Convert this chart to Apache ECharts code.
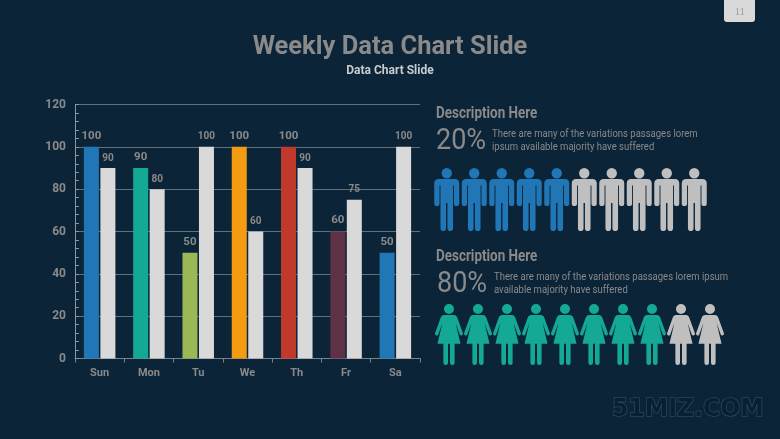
<!DOCTYPE html>
<html>
<head>
<meta charset="utf-8">
<style>
  html, body { margin: 0; padding: 0; background: #0c2438; }
  #main { width: 780px; height: 439px; }
</style>
</head>
<body>
<div id="main"></div>
<script src="https://cdn.jsdelivr.net/npm/echarts@6/dist/echarts.min.js"></script>
<script>
const categories = ['Sun', 'Mon', 'Tu', 'We', 'Th', 'Fr', 'Sa']
const colorValues = [100, 90, 50, 100, 100, 60, 50]
const greyValues = [90, 80, 100, 60, 90, 75, 100]
const barColors = ['#2176b5', '#14a994', '#9ab854', '#f39c12', '#c0392b', '#5f3147', '#2176b5']

const iconSlots = ['1', '2', '3', '4', '5', '6', '7', '8', '9', '10']
const maleFilled = [1, 1, 1, 1, 1, 0, 0, 0, 0, 0]
const femaleFilled = [1, 1, 1, 1, 1, 1, 1, 1, 0, 0]

const grey = '#8a8a8a'
const iconGrey = '#bfbfbf'

const malePath = 'path://M12.5 0A5.2 5.2 0 1 1 12.5 10.4A5.2 5.2 0 1 1 12.5 0ZM4.5 11H20.5Q25 11 25 15.5V35.4A2.65 2.65 0 0 1 19.7 35.4V17.5H18.8V60.2A2.8 2.8 0 0 1 13.2 60.2V35H11.8V60.2A2.8 2.8 0 0 1 6.2 60.2V17.5H5.3V35.4A2.65 2.65 0 0 1 0 35.4V15.5Q0 11 4.5 11Z'
const femalePath = 'path://M14 0A5 5 0 1 1 14 10A5 5 0 1 1 14 0ZM9 11H19Q21 11 22 13L27.9 29.5A1.7 1.7 0 0 1 24.8 30.8L20.6 19L25.5 40H19.6V59A2.3 2.3 0 0 1 15 59V40H13V59A2.3 2.3 0 0 1 8.4 59V40H2.5L7.4 19L3.2 30.8A1.7 1.7 0 0 1 0.1 29.5L6 13Q7 11 9 11Z'

function iconData(filled, color) {
    return filled.map(function (f, i) {
        return { value: [i, 0], itemStyle: { color: f ? color : iconGrey, opacity: 1 } }
    })
}

function hiddenAxes(gridIndex) {
    return {
        x: { type: 'category', gridIndex: gridIndex, data: iconSlots, show: false },
        y: { type: 'value', gridIndex: gridIndex, min: -1, max: 1, show: false }
    }
}

// squeeze is a horizontal scale, the slide used a condensed face we don't have
function txt(x, y, text, size, color, squeeze, extra) {
    return {
        type: 'text', x: x, y: y, scaleX: squeeze, silent: true,
        style: Object.assign({
            text: text, fontSize: size, fill: color, fontFamily: 'Roboto',
            textVerticalAlign: 'middle', lineHeight: 15
        }, extra || {})
    }
}

const maleAxes = hiddenAxes(1)
const femaleAxes = hiddenAxes(2)

const myChart = echarts.init(document.getElementById('main'))
myChart.setOption({
    backgroundColor: '#0c2438',
    animation: false,
    title: {
        text: 'Weekly Data Chart Slide',
        subtext: 'Data Chart Slide',
        left: 'center',
        top: 30,
        itemGap: 4,
        textStyle: { color: grey, fontFamily: 'Roboto', fontSize: 25.5, fontWeight: 'bold' },
        subtextStyle: { color: '#c8cccf', fontFamily: 'Roboto', fontSize: 12, fontWeight: 'bold' }
    },
    grid: [
        { left: 75, right: 360, top: 104.5, bottom: 80.5 },
        { left: 433, width: 275, top: 168, height: 63 },
        { left: 434.5, width: 290, top: 304, height: 61 }
    ],
    xAxis: [
        {
            type: 'category',
            data: categories,
            axisLine: { lineStyle: { color: '#76848e', width: 1 } },
            axisTick: { show: true, length: 4, lineStyle: { color: '#76848e' } },
            axisLabel: { color: grey, fontFamily: 'Roboto', fontSize: 11, fontWeight: 'bold', margin: 9 }
        },
        maleAxes.x,
        femaleAxes.x
    ],
    yAxis: [
        {
            type: 'value',
            min: 0,
            max: 120,
            interval: 20,
            axisLine: { show: true, lineStyle: { color: '#8a97a0', width: 1 } },
            axisTick: { show: true, inside: true, length: 4, lineStyle: { color: '#8a97a0' } },
            minorTick: { show: true, splitNumber: 5, length: 4, lineStyle: { color: '#8a97a0' } },
            splitLine: { lineStyle: { color: '#5f717d', width: 1 } },
            axisLabel: { color: grey, fontFamily: 'Roboto', fontSize: 12, fontWeight: 'bold', margin: 9 }
        },
        maleAxes.y,
        femaleAxes.y
    ],
    series: [
        {
            type: 'bar',
            data: colorValues.map(function (v, i) {
                return { value: v, itemStyle: { color: barColors[i] } }
            }),
            barWidth: 15,
            barGap: '10%',
            label: { show: true, position: 'top', color: grey, fontFamily: 'Roboto', fontSize: 11.5, fontWeight: 'bold' }
        },
        {
            type: 'bar',
            data: greyValues,
            barWidth: 15,
            itemStyle: { color: '#d9d9d9' },
            label: { show: true, position: 'top', color: grey, fontFamily: 'Roboto', fontSize: 10, fontWeight: 'bold' }
        },
        {
            type: 'scatter',
            xAxisIndex: 1,
            yAxisIndex: 1,
            symbol: malePath,
            symbolSize: [25, 63],
            silent: true,
            data: iconData(maleFilled, '#2176b5')
        },
        {
            type: 'scatter',
            xAxisIndex: 2,
            yAxisIndex: 2,
            symbol: femalePath,
            symbolSize: [28, 61],
            silent: true,
            data: iconData(femaleFilled, '#14a994')
        }
    ],
    graphic: [
        txt(436, 114, 'Description Here', 16, grey, 0.84, { fontWeight: 'bold' }),
        txt(436, 141, '20%', 30, grey, 0.9),
        txt(492, 134, 'There are many of the variations passages lorem', 10, grey, 0.95),
        txt(492, 147, 'ipsum available majority have suffered', 10, grey, 0.95),
        txt(436, 257, 'Description Here', 16, grey, 0.84, { fontWeight: 'bold' }),
        txt(437, 284, '80%', 30, grey, 0.9),
        txt(494, 277, 'There are many of the variations passages lorem ipsum', 10, grey, 0.95),
        txt(494, 290, 'available majority have suffered', 10, grey, 0.95),
        {
            type: 'rect', silent: true,
            shape: { x: 724, y: -6, width: 31, height: 28, r: 3 },
            style: { fill: '#d9d9d9' }
        },
        txt(735, 12, '11', 10, '#9a9a9a', 1, { fontFamily: 'Liberation Serif' }),
        txt(612, 410, '51MIZ.COM', 24, '#0a1f2f', 0.98, {
            fontFamily: 'DejaVu Sans', fontWeight: 'bold',
            stroke: '#28495f', lineWidth: 1.5
        })
    ]
})
</script>
</body>
</html>
